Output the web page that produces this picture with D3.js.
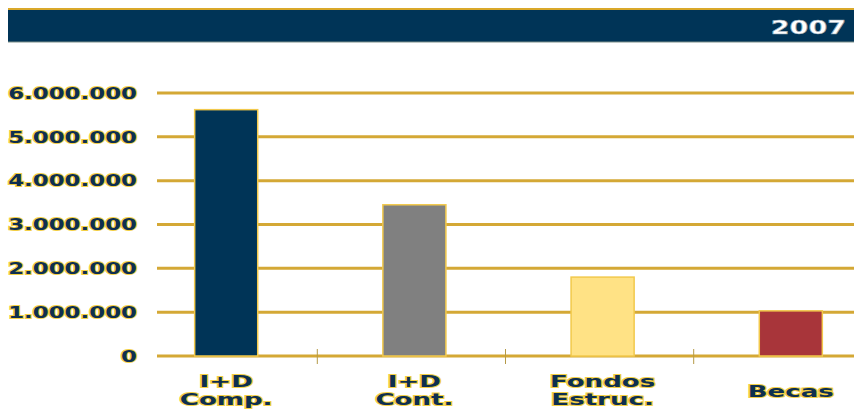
<!DOCTYPE html>
<html>
<head>
<meta charset="utf-8">
<script src="https://cdn.jsdelivr.net/npm/d3@7"></script>
<style>
  body { margin: 0; background: #fff; }
  svg { display: block; }
  .lbl { font-family: "DejaVu Sans", sans-serif; font-weight: bold; fill: #0e2f4f;
         stroke: #f3cf45; stroke-width: 2px; paint-order: stroke; }
</style>
</head>
<body>
<div id="chart"></div>
<script>
const width = 854;
const height = 412;

const year = "2007";
const categories = [["I+D", "Comp."], ["I+D", "Cont."], ["Fondos", "Estruc."], ["Becas"]];
const values = [5620000, 3450000, 1800000, 1030000];
const barColors = ["#003457", "#808080", "#ffe285", "#a8353a"];
const yTicks = [0, 1000000, 2000000, 3000000, 4000000, 5000000, 6000000];

const svg = d3.select("#chart")
  .append("svg")
  .attr("width", width)
  .attr("height", height);

// header band
svg.append("rect")
  .attr("x", 8).attr("y", 9)
  .attr("width", width - 8).attr("height", 33)
  .attr("fill", "#003457");
svg.append("line")
  .attr("x1", 8).attr("x2", width)
  .attr("y1", 9).attr("y2", 9)
  .attr("stroke", "#d9a82a").attr("stroke-width", 2);
svg.append("line")
  .attr("x1", 8).attr("x2", width)
  .attr("y1", 42).attr("y2", 42)
  .attr("stroke", "#7d8f8a").attr("stroke-width", 1);

const yearText = svg.append("text")
  .attr("x", 846).attr("y", 34)
  .attr("text-anchor", "end")
  .attr("font-family", "DejaVu Sans, sans-serif")
  .attr("font-weight", "bold")
  .attr("font-size", 20)
  .attr("fill", "#fff")
  .attr("stroke", "#8fa3b3")
  .attr("stroke-width", 0.6)
  .text(year);

// stretch wide-looking text horizontally
function stretch(sel, k) {
  sel.each(function() {
    const len = this.getComputedTextLength();
    d3.select(this)
      .attr("textLength", len * k)
      .attr("lengthAdjust", "spacingAndGlyphs");
  });
}
stretch(yearText, 1.35);

const x = d3.scaleBand()
  .domain(d3.range(categories.length))
  .range([132, 885])
  .paddingInner(0.665)
  .paddingOuter(0.333);

const y = d3.scaleLinear()
  .domain([0, 6000000])
  .range([356, 93]);

const plotLeft = 157;

// grid lines
svg.append("g")
  .selectAll("line")
  .data(yTicks)
  .enter()
  .append("line")
  .attr("x1", plotLeft).attr("x2", width)
  .attr("y1", d => y(d)).attr("y2", d => y(d))
  .attr("stroke", "#d4a835")
  .attr("stroke-width", 3);

// y labels
const fmt = d => d === 0 ? "0" : d3.format(",")(d).replace(/,/g, ".");
const yLabels = svg.append("g")
  .selectAll("text")
  .data(yTicks)
  .enter()
  .append("text")
  .classed("lbl", true)
  .attr("x", 137)
  .attr("y", d => y(d))
  .attr("dy", "0.36em")
  .attr("text-anchor", "end")
  .attr("font-size", 16)
  .text(fmt);
stretch(yLabels, 1.43);

// category ticks on the baseline
const step = x.step();
svg.append("g")
  .selectAll("line")
  .data(d3.range(1, categories.length))
  .enter()
  .append("line")
  .attr("x1", d => x(d) - step * x.paddingInner() / 2 - 3)
  .attr("x2", d => x(d) - step * x.paddingInner() / 2 - 3)
  .attr("y1", 349).attr("y2", 364)
  .attr("stroke", "#b59a48")
  .attr("stroke-width", 1);

// bars
svg.append("g")
  .selectAll("rect")
  .data(values)
  .enter()
  .append("rect")
  .attr("x", (d, i) => x(i))
  .attr("y", d => y(d))
  .attr("width", x.bandwidth())
  .attr("height", d => y(0) - y(d))
  .attr("fill", (d, i) => barColors[i])
  .attr("stroke", "#f2c94c")
  .attr("stroke-width", 1.5);

// category labels
const catG = svg.append("g")
  .selectAll("text")
  .data(categories)
  .enter()
  .append("text")
  .classed("lbl", true)
  .attr("text-anchor", "middle")
  .attr("font-size", 15.5)
  .attr("y", d => d.length === 1 ? 397 : 387);

catG.selectAll("tspan")
  .data((d, i) => d.map(t => ({ t, i })))
  .enter()
  .append("tspan")
  .attr("x", d => x(d.i) + x.bandwidth() / 2)
  .attr("dy", (d, j) => j === 0 ? 0 : 18.3)
  .text(d => d.t);

catG.selectAll("tspan").each(function() {
  const len = this.getComputedTextLength();
  d3.select(this)
    .attr("textLength", len * 1.68)
    .attr("lengthAdjust", "spacingAndGlyphs");
});
</script>
</body>
</html>
